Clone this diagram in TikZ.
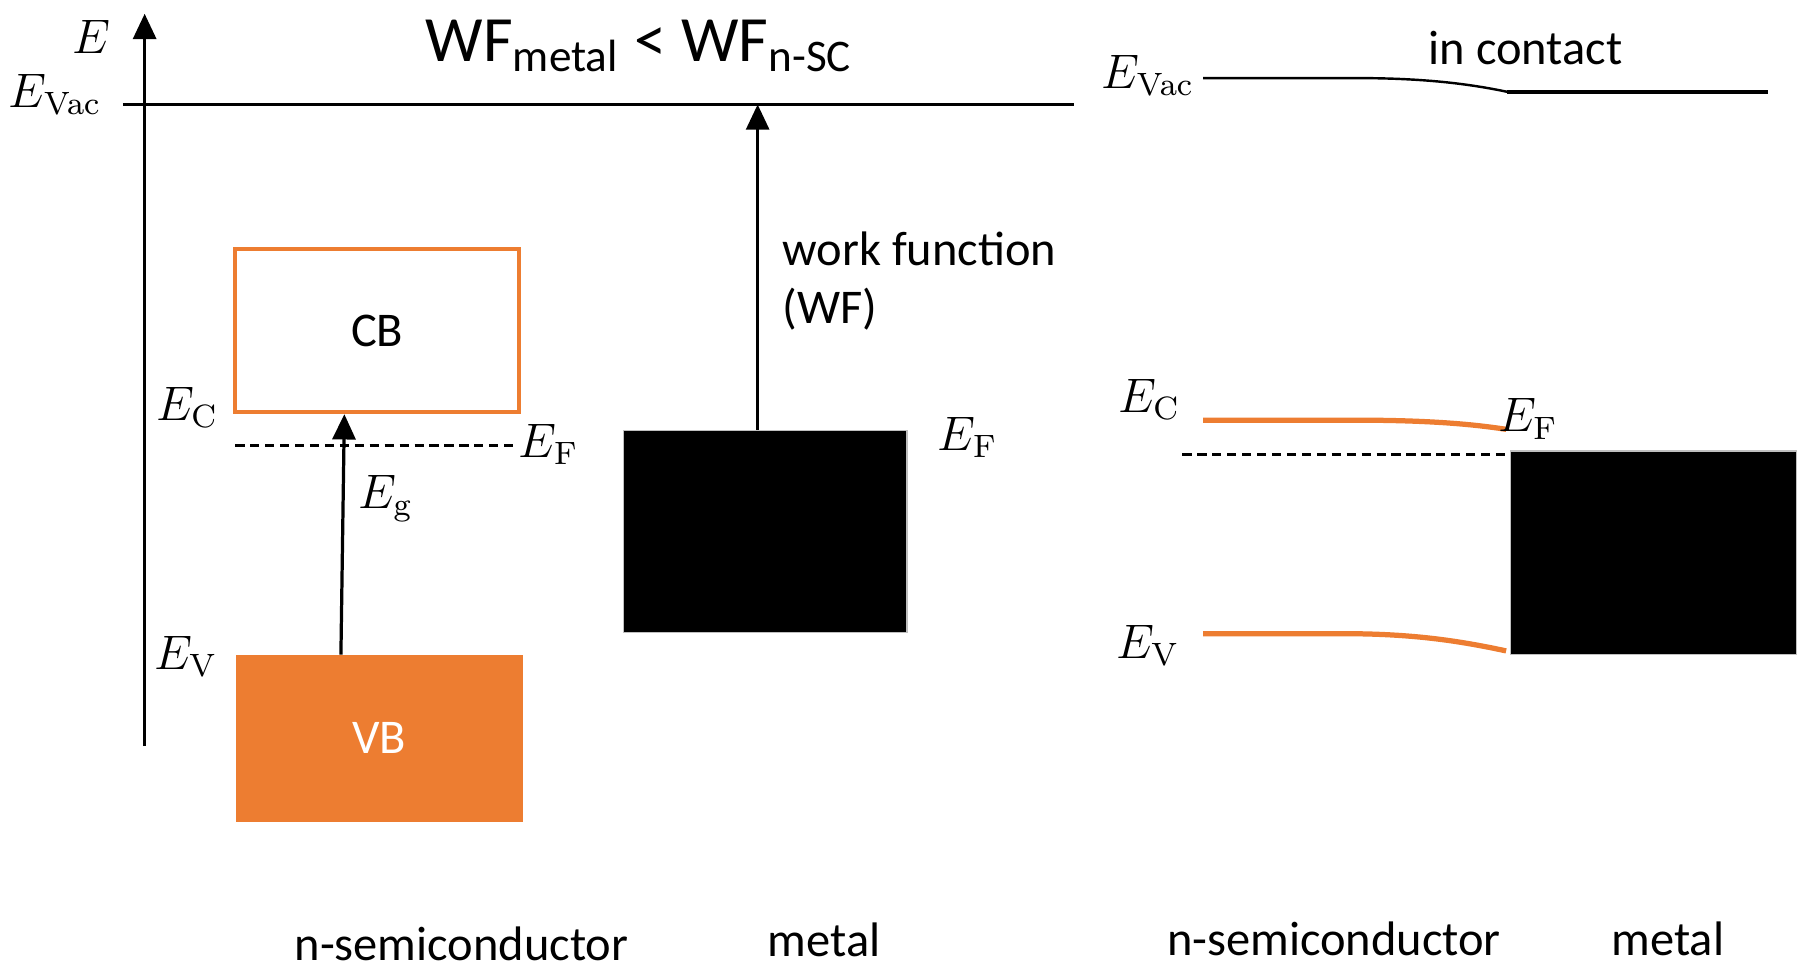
\documentclass[tikz,border=0pt]{standalone}
\usepackage[no-math]{fontspec}
\setmainfont{Carlito}
\usetikzlibrary{arrows.meta,positioning}
\definecolor{bandorange}{HTML}{ED7D31}

\begin{document}
\begin{tikzpicture}[x=0.01cm, y=-0.01cm, font=\fontsize{12}{14.4}\selectfont]

% Styles
\tikzstyle{band}       = [draw=bandorange, line width=1pt, inner sep=0pt, minimum width=2.47cm, minimum height=1.42cm]
\tikzstyle{metalblock} = [fill=black, draw=gray!50, line width=0.3pt, inner sep=0pt, minimum width=2.47cm, minimum height=1.76cm]
\tikzstyle{txt}        = [inner sep=0pt]
\tikzstyle{level}      = [line width=0.8pt]
\tikzstyle{fermi}      = [line width=0.7pt, dash pattern=on 0.08cm off 0.05cm]
\tikzstyle{bent}       = [draw=bandorange, line width=1.3pt]
\tikzstyle{uparrow}    = [line width=0.8pt, -{Triangle[length=0.22cm, width=0.2cm]}]

\useasboundingbox (0,0) rectangle (1568,842);

% Axis and vacuum level
\coordinate (axbot) at (126,650);
\coordinate (axtop) at (126,12);
\coordinate (vacL) at (107,91);
\coordinate (vacR) at (936,91);
\draw [uparrow] (axbot) -- (axtop);
\draw [level] (vacL) -- (vacR);
\node [txt] (elab) at (80,32) {\large$E$};
\node [txt] (evac) at (48,82) {\large$E_{\mathrm{Vac}}$};
\node [txt] (title) at (557,40) {\fontsize{16}{19}\selectfont WF\textsubscript{metal} < WF\textsubscript{n-SC}};

% Semiconductor bands
\node [band] (cb) at (328.5,288) {CB};
\node [band, fill=bandorange, text=white] (vb) at (330.5,643) {VB};
\node [txt] (ec) at (163,355) {\large$E_{\mathrm{C}}$};
\node [txt] (ev) at (162,572) {\large$E_{\mathrm{V}}$};
\coordinate (efL) at (205,388);
\coordinate (efR) at (450,388);
\draw [fermi] (efL) -- (efR);
\node [txt] (efsc) at (478,387) {\large$E_{\mathrm{F}}$};
\draw [uparrow] ([xshift=-0.335cm]vb.north) -- node[txt, pos=0.65, right=0.12cm] (eg) {\large$E_{\mathrm{g}}$} ([xshift=-0.285cm]cb.south);

% Metal
\node [metalblock] (metal) at (666.5,463) {};
\node [txt] (efm) at (843,381) {\large$E_{\mathrm{F}}$};
\coordinate (wftop) at (660,91);
\draw [uparrow] (metal.north -| wftop) -- (wftop);
\node [txt, anchor=west, align=left] (wf) at (681,245) {work function\\(WF)};

\node [txt] (nsc1) at (402,822) {n-semiconductor};
\node [txt] (met1) at (718,819) {metal};

% In contact
\node [txt] (contact) at (1329,42) {in contact};
\node [txt] (evac2) at (1000,66) {\large$E_{\mathrm{Vac}}$};
\coordinate (vac2a) at (1048,68);
\coordinate (vac2b) at (1313,80);
\coordinate (vac2c) at (1540,80);
\draw [line width=0.6pt] (vac2a) -- (1180,68) .. controls (1235,68) and (1275,72) .. (vac2b);
\draw [line width=1pt] (vac2b) -- (vac2c);

\node [metalblock, minimum width=2.49cm, minimum height=1.77cm] (metal2) at (1440.5,481.5) {};
\coordinate (ef2a) at (1030,396);
\draw [fermi] (ef2a) -- (ef2a -| metal2.west);
\draw [bent] (1048,366) -- (1180,366) .. controls (1240,366) and (1280,369) .. (1312,374);
\draw [bent] (1048,552) -- (1170,552) .. controls (1230,552) and (1270,558) .. (1312,567);
\node [txt] (ec2) at (1001,348) {\large$E_{\mathrm{C}}$};
\node [txt] (ef2) at (1331,365) {\large$E_{\mathrm{F}}$};
\node [txt] (ev2) at (1000,562) {\large$E_{\mathrm{V}}$};

\node [txt] (nsc2) at (1162,818) {n-semiconductor};
\node [txt] (met2) at (1453,818) {metal};

\end{tikzpicture}
\end{document}
